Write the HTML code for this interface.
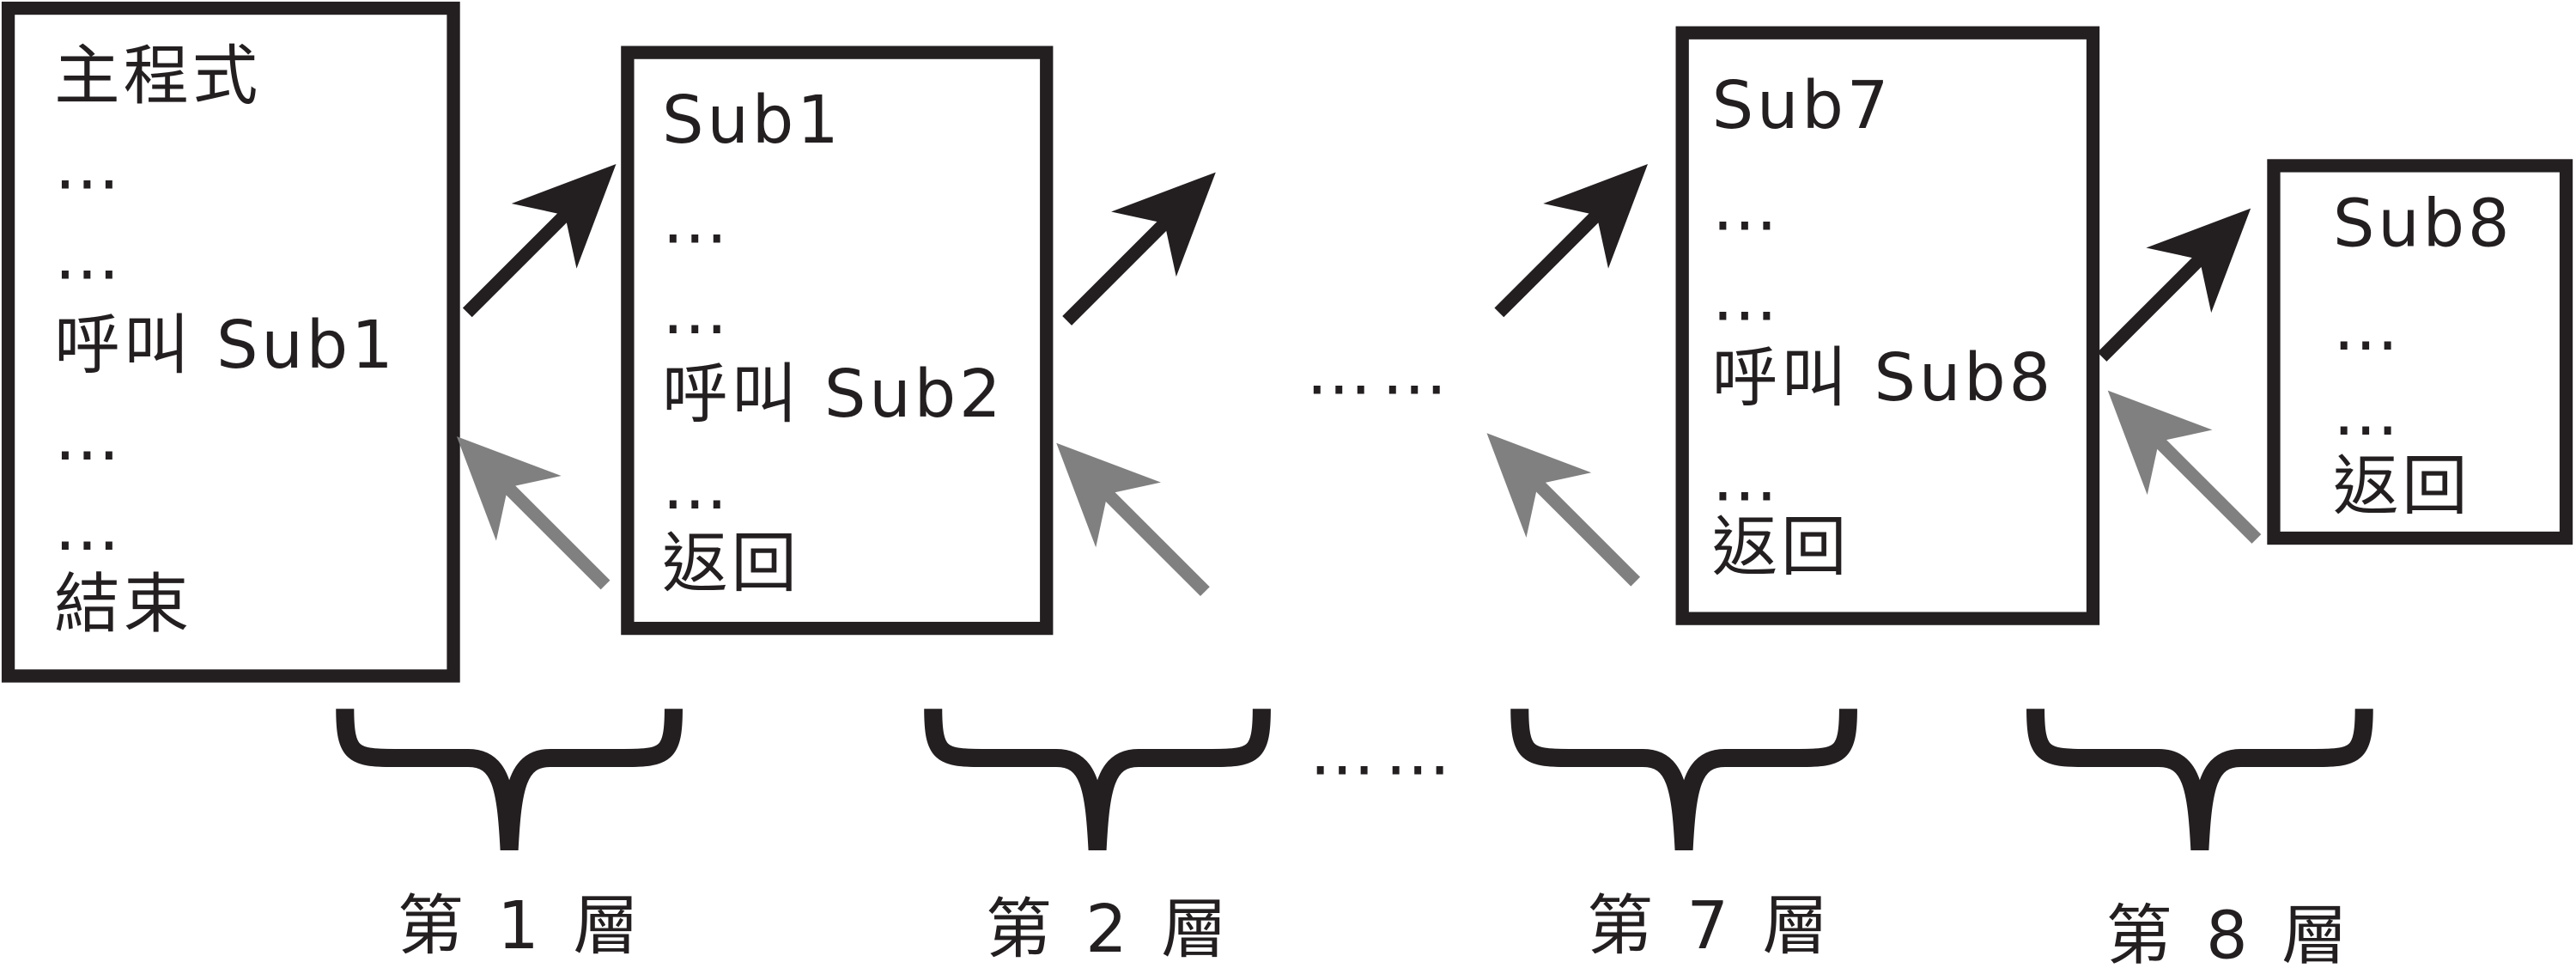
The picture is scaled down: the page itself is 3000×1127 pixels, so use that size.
<!DOCTYPE html>
<html><head><meta charset="utf-8"><style>
html,body{margin:0;padding:0;background:#fff;width:3000px;height:1127px;overflow:hidden}
svg{display:block}
text{font-family:"DejaVu Sans","Noto Sans CJK TC",sans-serif;font-size:40px;fill:#231f20}
</style></head><body>
<svg width="3000" height="1127" viewBox="0 0 1568 590" preserveAspectRatio="none" xmlns="http://www.w3.org/2000/svg">
<defs>
<g id="ab"><line x1="-128" y1="0" x2="-40" y2="0" stroke="#231f20" stroke-width="8"/><polygon points="0,0 -62,-28 -44,0 -62,28" fill="#231f20"/></g>
<g id="ag"><line x1="-128" y1="0" x2="-40" y2="0" stroke="#808080" stroke-width="8"/><polygon points="0,0 -62,-28 -44,0 -62,28" fill="#808080"/></g>
<path id="br" d="M5,2 C5,30 10,32 35,32 L80,32 C100,32 103,50 105,88 C107,50 110,32 130,32 L175,32 C200,32 205,30 205,2" fill="none" stroke="#231f20" stroke-width="11"/>
</defs>
<g fill="none" stroke="#231f20" stroke-width="8">
<rect x="5" y="5" width="271" height="407"/>
<rect x="382" y="32" width="255" height="351"/>
<rect x="1024" y="20" width="250" height="357"/>
<rect x="1384" y="101" width="178" height="227"/>
</g>
<g style="letter-spacing:2px">
<text x="33" y="60">主程式</text><text x="33" y="115">…</text><text x="33" y="170">…</text><text x="33" y="224">呼叫 Sub1</text><text x="33" y="280">…</text><text x="33" y="335">…</text><text x="33" y="382">結束</text>
<text x="403" y="87">Sub1</text><text x="403" y="148">…</text><text x="403" y="203">…</text><text x="403" y="254">呼叫 Sub2</text><text x="403" y="310">…</text><text x="403" y="357">返回</text>
<text x="1042" y="78">Sub7</text><text x="1042" y="140">…</text><text x="1042" y="195">…</text><text x="1042" y="244">呼叫 Sub8</text><text x="1042" y="305">…</text><text x="1042" y="347">返回</text>
<text x="1420" y="150">Sub8</text><text x="1420" y="213">…</text><text x="1420" y="265">…</text><text x="1420" y="310">返回</text>
</g>
<use href="#ab" transform="translate(375,100) rotate(-45)"/>
<use href="#ag" transform="translate(278,266) rotate(-135)"/>
<use href="#ab" transform="translate(740,105) rotate(-45)"/>
<use href="#ag" transform="translate(643,270) rotate(-135)"/>
<use href="#ab" transform="translate(1003,100) rotate(-45)"/>
<use href="#ag" transform="translate(905,264) rotate(-135)"/>
<use href="#ab" transform="translate(1370,127) rotate(-45)"/>
<use href="#ag" transform="translate(1283,238) rotate(-135)"/>
<text x="795" y="240" style="letter-spacing:6px">……</text>
<text x="797" y="472" style="letter-spacing:6px">……</text>
<use href="#br" transform="translate(205,430)"/>
<use href="#br" transform="translate(563,430)"/>
<use href="#br" transform="translate(920,430)"/>
<use href="#br" transform="translate(1234,430)"/>
<g style="letter-spacing:4px">
<text x="242" y="578">第 1 層</text>
<text x="600" y="580">第 2 層</text>
<text x="966" y="578">第 7 層</text>
<text x="1282" y="584">第 8 層</text>
</g>
</svg>
</body></html>
